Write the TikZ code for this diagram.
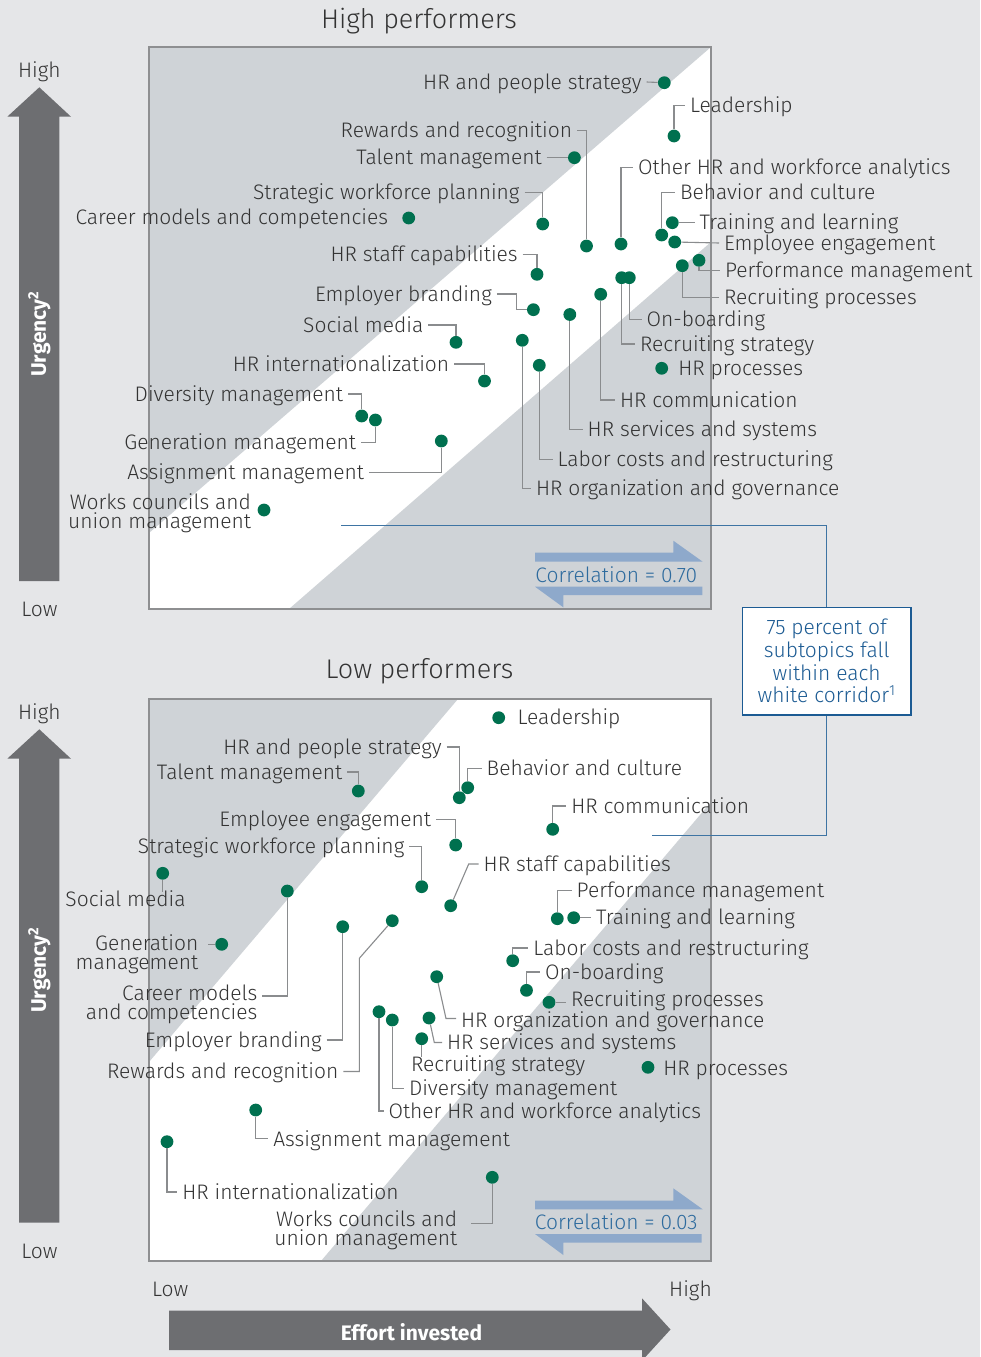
\documentclass[tikz,border=0pt]{standalone}
\usepackage{fontspec}
\setmainfont{Fira Sans Light}
\newfontfamily\heavyfont{Fira Sans}
\usetikzlibrary{calc}

\definecolor{bg}{HTML}{E5E6E8}
\definecolor{corr}{HTML}{CFD3D7}
\definecolor{framegray}{HTML}{8E8F91}
\definecolor{dotgreen}{HTML}{00704F}
\definecolor{leadgray}{HTML}{8A8C8E}
\definecolor{txt}{HTML}{333333}
\definecolor{axisgray}{HTML}{6D6E71}
\definecolor{arrowblue}{HTML}{8EA9CB}
\definecolor{corrtext}{HTML}{2E6B9E}
\definecolor{noteblue}{HTML}{1C5B93}

\newcommand\lblfont{\fontsize{21}{19}\selectfont}

\begin{document}
\begin{tikzpicture}[x=1pt,y=-1pt,
    dot/.style={circle,fill=dotgreen,inner sep=0pt,minimum size=12.8pt},
    lbl/.style={font=\lblfont,text=txt,inner sep=0pt,outer xsep=5pt,outer ysep=0pt,text height=14.5pt,text depth=0pt},
    lbltwo/.style={font=\lblfont,text=txt,inner sep=0pt,outer xsep=5pt,outer ysep=0pt,align=right},
    lead/.style={draw=leadgray,line width=1.1pt},
    frame/.style={draw=framegray,line width=1.4pt},
    title/.style={font=\fontsize{27}{30}\selectfont,text=txt,inner sep=0pt},
    axlbl/.style={font=\lblfont,text=txt,inner sep=0pt,text height=14.5pt,text depth=0pt},
    axname/.style={font=\heavyfont\bfseries\fontsize{21}{24}\selectfont,text=white,inner sep=0pt},
    corrtxt/.style={font=\lblfont,text=corrtext,inner sep=0pt},
    note/.style={draw=noteblue,line width=1.3pt,fill=white,text=noteblue,inner sep=0pt,
      minimum width=168.7pt,minimum height=107.7pt,align=center,font=\fontsize{21}{22.7}\selectfont},
    noteline/.style={draw=noteblue!85!white,line width=1.3pt}]

  \useasboundingbox (0,0) rectangle (980,1357);
  \fill[bg] (0,0) rectangle (980,1357);

  \node[title] (ttlHigh) at (419,21.5) {High performers};
  \node[title] (ttlLow) at (419.5,671.5) {Low performers};

  % axes
  \fill[axisgray] (19,581) -- (19,116.7) -- (7.3,116.7) -- (39.3,87.3) -- (71,116.7) -- (59.3,116.7) -- (59.3,581) -- cycle;
  \fill[axisgray] (19,1222.7) -- (19,758.7) -- (7.3,758.7) -- (39.3,729.3) -- (71,758.7) -- (59.3,758.7) -- (59.3,1222.7) -- cycle;
  \fill[axisgray] (169,1310.7) -- (642,1310.7) -- (642,1298.3) -- (670.5,1329.5) -- (642,1360.7) -- (642,1350) -- (169,1350) -- cycle;
  \node[axlbl] (hHigh) at (39.3,70) {High};
  \node[axlbl] (hLow) at (39.5,609) {Low};
  \node[axlbl] (lHigh) at (39.3,712) {High};
  \node[axlbl] (lLow) at (39.5,1251) {Low};
  \node[axlbl,anchor=west] (xLow) at (152,1289.3) {Low};
  \node[axlbl,anchor=east] (xHigh) at (712,1289.3) {High};
  \node[axname,rotate=90] (hUrg) at (39.3,334) {Urgency\textsuperscript{2}};
  \node[axname,rotate=90] (lUrg) at (39.3,970) {Urgency\textsuperscript{2}};
  \node[axname] (effort) at (411.5,1331.7) {Effort invested};

  % panels
  \fill[white] (149,47) rectangle (711,609);
  \fill[corr] (149,47) -- (711,47) -- (149,533) -- cycle;
  \fill[corr] (711,242) -- (711,609) -- (289,609) -- cycle;
  \draw[frame] (149,47) rectangle (711,609);
  \fill[white] (149,699) rectangle (711,1261);
  \fill[corr] (149,699) -- (458,699) -- (149,1062) -- cycle;
  \fill[corr] (711,802) -- (711,1261) -- (321,1261) -- cycle;
  \draw[frame] (149,699) rectangle (711,1261);

  % correlation arrows
  \fill[arrowblue] (535,552.7) -- (673.3,552.7) -- (673.3,540.7) -- (702.7,561.7) -- (535,561.7) -- cycle;
  \fill[arrowblue] (535,586.7) -- (702.3,586.7) -- (702.3,595) -- (563.3,595) -- (563.3,607.3) -- cycle;
  \node[corrtxt] (hCorr) at (616.3,575) {Correlation = 0.70};
  \fill[arrowblue] (535,1200.7) -- (673.3,1200.7) -- (673.3,1188.3) -- (702.7,1209.3) -- (535,1209.3) -- cycle;
  \fill[arrowblue] (535,1234) -- (701.7,1234) -- (701.7,1242.7) -- (563.3,1242.7) -- (563.3,1255) -- cycle;
  \node[corrtxt] (lCorr) at (616.3,1221.7) {Correlation = 0.03};

  % note
  \node[note] (note) at (826.7,661.2) {75 percent of\\subtopics fall\\within each\\white corridor\textsuperscript{1}};
  \coordinate (hNoteEnd) at (341.4,525.7);
  \coordinate (lNoteEnd) at (651.7,835.7);
  \draw[noteline] (note.north) |- (hNoteEnd);
  \draw[noteline] (note.south) |- (lNoteEnd);

  % high performers
  \node[dot] (hHps) at (664.3,82.7) {};
  \node[dot] (hLead) at (674,136) {};
  \node[dot] (hRew) at (586.5,246) {};
  \node[dot] (hTal) at (574.4,157.7) {};
  \node[dot] (hSwp) at (542.7,224) {};
  \node[dot] (hCar) at (408.7,218) {};
  \node[dot] (hOth) at (621,244) {};
  \node[dot] (hBeh) at (661.7,235) {};
  \node[dot] (hTra) at (672.3,222.7) {};
  \node[dot] (hEmp) at (674.7,242) {};
  \node[dot] (hPer) at (699,260.3) {};
  \node[dot] (hRpr) at (682.3,265.7) {};
  \node[dot] (hSta) at (537,274.3) {};
  \node[dot] (hBra) at (533.4,309.7) {};
  \node[dot] (hOnb) at (629.3,277.7) {};
  \node[dot] (hRst) at (621.7,277.7) {};
  \node[dot] (hPro) at (661.7,368.3) {};
  \node[dot] (hSoc) at (456,342.3) {};
  \node[dot] (hCom) at (600.7,294.3) {};
  \node[dot] (hSer) at (569.8,314.5) {};
  \node[dot] (hLab) at (539.3,365.3) {};
  \node[dot] (hOrg) at (522.3,340.3) {};
  \node[dot] (hInt) at (484.5,381) {};
  \node[dot] (hDiv) at (361.7,416) {};
  \node[dot] (hGen) at (375.4,420) {};
  \node[dot] (hAss) at (441.3,441) {};
  \node[dot] (hWor) at (264,510) {};

  \node[lbl,anchor=east] (hHpsT) at (646.6,82) {HR and people strategy};
  \node[lbl,anchor=west] (hLeadT) at (685,105.7) {Leadership};
  \node[lbl,anchor=east] (hRewT) at (577,130.7) {Rewards and recognition};
  \node[lbl,anchor=east] (hTalT) at (546.7,157.7) {Talent management};
  \node[lbl,anchor=east] (hSwpT) at (524.5,192.5) {Strategic workforce planning};
  \node[lbl,anchor=east] (hCarT) at (393,217) {Career models and competencies};
  \node[lbl,anchor=east] (hStaT) at (522.7,254.5) {HR staff capabilities};
  \node[lbl,anchor=east] (hBraT) at (496.8,294) {Employer branding};
  \node[lbl,anchor=east] (hSocT) at (428.3,325) {Social media};
  \node[lbl,anchor=east] (hIntT) at (454.2,364) {HR internationalization};
  \node[lbl,anchor=east] (hDivT) at (348,394) {Diversity management};
  \node[lbl,anchor=east] (hGenT) at (361,442.5) {Generation management};
  \node[lbl,anchor=east] (hAssT) at (369,472.5) {Assignment management};
  \node[lbltwo,anchor=east] (hWorT) at (256,513.4) {Works councils and\\union management};
  \node[lbl,anchor=west] (hOthT) at (633,167.7) {Other HR and workforce analytics};
  \node[lbl,anchor=west] (hBehT) at (675,192.3) {Behavior and culture};
  \node[lbl,anchor=west] (hTraT) at (694.7,222.7) {Training and learning};
  \node[lbl,anchor=west] (hEmpT) at (719,243) {Employee engagement};
  \node[lbl,anchor=west] (hPerT) at (720,270.7) {Performance management};
  \node[lbl,anchor=west] (hRprT) at (719,297.3) {Recruiting processes};
  \node[lbl,anchor=west] (hOnbT) at (641.7,319.3) {On-boarding};
  \node[lbl,anchor=west] (hRstT) at (635,344) {Recruiting strategy};
  \node[lbl,anchor=west] (hProT) at (673.3,368.5) {HR processes};
  \node[lbl,anchor=west] (hComT) at (615,400) {HR communication};
  \node[lbl,anchor=west] (hSerT) at (582.7,429.5) {HR services and systems};
  \node[lbl,anchor=west] (hLabT) at (552.5,459.5) {Labor costs and restructuring};
  \node[lbl,anchor=west] (hOrgT) at (531,488.5) {HR organization and governance};

  \draw[lead] (hHpsT.east) -- (hHps);
  \draw[lead] (hLead) |- (hLeadT.west);
  \draw[lead] (hRewT.east) -| (hRew);
  \draw[lead] (hTalT.east) -- (hTal);
  \draw[lead] (hSwpT.east) -| (hSwp);
  \draw[lead] (hStaT.east) -| (hSta);
  \draw[lead] (hBraT.east) -| ([xshift=-16.6pt]hBra.center) -- (hBra);
  \draw[lead] (hSocT.east) -| (hSoc);
  \draw[lead] (hIntT.east) -| (hInt);
  \draw[lead] (hDivT.east) -| (hDiv);
  \draw[lead] (hGenT.east) -| (hGen);
  \draw[lead] (hAssT.east) -| (hAss);
  \draw[lead] (hOth) |- (hOthT.west);
  \draw[lead] (hBeh) |- (hBehT.west);
  \draw[lead] (hTra) -- (hTraT.west);
  \draw[lead] (hEmp) -- (hEmpT.west);
  \draw[lead] (hPer) |- (hPerT.west);
  \draw[lead] (hRpr) |- (hRprT.west);
  \draw[lead] (hOnb) |- (hOnbT.west);
  \draw[lead] (hRst) |- (hRstT.west);
  \draw[lead] (hCom) |- (hComT.west);
  \draw[lead] (hSer) |- (hSerT.west);
  \draw[lead] (hLab) |- (hLabT.west);
  \draw[lead] (hOrg) |- (hOrgT.west);

  % low performers
  \node[dot] (lLead) at (498.7,717.7) {};
  \node[dot] (lHps) at (459.3,797.7) {};
  \node[dot] (lBeh) at (467.7,787.7) {};
  \node[dot] (lTal) at (358.3,791) {};
  \node[dot] (lEmp) at (455.7,845) {};
  \node[dot] (lSwp) at (421.7,886.7) {};
  \node[dot] (lCom) at (552.7,829.3) {};
  \node[dot] (lSta) at (450.7,905.7) {};
  \node[dot] (lSoc) at (162.7,873.3) {};
  \node[dot] (lPer) at (557.3,918.7) {};
  \node[dot] (lTra) at (573.7,917.7) {};
  \node[dot] (lGen) at (221.7,944.3) {};
  \node[dot] (lCar) at (287.3,891) {};
  \node[dot] (lBra) at (342.7,926.7) {};
  \node[dot] (lRew) at (392.3,920.7) {};
  \node[dot] (lLab) at (512.7,960.7) {};
  \node[dot] (lOnb) at (526.5,990.3) {};
  \node[dot] (lRpr) at (549,1002.3) {};
  \node[dot] (lOrg) at (436.7,976.7) {};
  \node[dot] (lSer) at (429,1018) {};
  \node[dot] (lRst) at (421.7,1038.7) {};
  \node[dot] (lDiv) at (392.3,1020) {};
  \node[dot] (lOth) at (379,1011.7) {};
  \node[dot] (lPro) at (648,1067.3) {};
  \node[dot] (lAss) at (255.7,1110) {};
  \node[dot] (lInt) at (167,1141.7) {};
  \node[dot] (lWor) at (492.3,1177.3) {};

  \node[lbl,anchor=west] (lLeadT) at (512.7,717.7) {Leadership};
  \node[lbl,anchor=east] (lHpsT) at (446.7,747) {HR and people strategy};
  \node[lbl,anchor=west] (lBehT) at (481.7,768.5) {Behavior and culture};
  \node[lbl,anchor=east] (lTalT) at (347.3,772) {Talent management};
  \node[lbl,anchor=east] (lEmpT) at (436,819.5) {Employee engagement};
  \node[lbl,anchor=east] (lSwpT) at (409.3,846.5) {Strategic workforce planning};
  \node[lbl,anchor=west] (lComT) at (566.3,806) {HR communication};
  \node[lbl,anchor=west] (lStaT) at (478.7,864) {HR staff capabilities};
  \node[lbl] (lSocT) at (125.5,899.5) {Social media};
  \node[lbl,anchor=west] (lPerT) at (571.7,890.5) {Performance management};
  \node[lbl,anchor=west] (lTraT) at (591,917.7) {Training and learning};
  \node[lbltwo,anchor=east,outer xsep=10pt] (lGenT) at (208.3,953.8) {Generation\\management};
  \node[lbltwo,anchor=east,outer xsep=4.4pt] (lCarT) at (261.7,1004.7) {Career models\\and competencies};
  \node[lbl,anchor=east] (lBraT) at (326.7,1040) {Employer branding};
  \node[lbl,anchor=east] (lRewT) at (343.3,1071.5) {Rewards and recognition};
  \node[lbl,anchor=west] (lLabT) at (528.3,948) {Labor costs and restructuring};
  \node[lbl,anchor=west] (lOnbT) at (540,972) {On-boarding};
  \node[lbl,anchor=west] (lRprT) at (566,999.5) {Recruiting processes};
  \node[lbl,anchor=west] (lOrgT) at (456,1020.5) {HR organization and governance};
  \node[lbl,anchor=west] (lSerT) at (442,1042.5) {HR services and systems};
  \node[lbl,anchor=west] (lRstT) at (406,1064.5) {Recruiting strategy};
  \node[lbl,anchor=west] (lDivT) at (404,1088.5) {Diversity management};
  \node[lbl,anchor=west] (lOthT) at (383.5,1111) {Other HR and workforce analytics};
  \node[lbl,anchor=west] (lProT) at (658.3,1068) {HR processes};
  \node[lbl,anchor=west] (lAssT) at (268.3,1138.8) {Assignment management};
  \node[lbl,anchor=west] (lIntT) at (177.3,1192) {HR internationalization};
  \node[lbltwo,anchor=east,outer xsep=13.7pt] (lWorT) at (471,1229.9) {Works councils and\\union management};

  \draw[lead] (lHpsT.east) -| (lHps);
  \draw[lead] (lBeh) |- (lBehT.west);
  \draw[lead] (lTalT.east) -| (lTal);
  \draw[lead] (lEmpT.east) -| (lEmp);
  \draw[lead] (lSwpT.east) -| (lSwp);
  \draw[lead] (lCom) |- (lComT.west);
  \draw[lead] (lSta) -- ([xshift=-10pt]lStaT.west) -- (lStaT.west);
  \draw[lead] (lSoc) -- (lSoc |- lSocT.north);
  \draw[lead] (lPer) |- (lPerT.west);
  \draw[lead] (lTra) -- (lTraT.west);
  \draw[lead] (lGen) -- (lGen -| lGenT.east);
  \draw[lead] (lCar) |- ([yshift=8.7pt]lCarT.east);
  \draw[lead] (lBraT.east) -| (lBra);
  \draw[lead] (lRewT.east) -| ([xshift=-33pt,yshift=-37.6pt]lRew.center) -- (lRew);
  \draw[lead] (lLab) |- (lLabT.west);
  \draw[lead] (lOnb) |- (lOnbT.west);
  \draw[lead] (lRpr) -- (lRpr -| lRprT.west);
  \draw[lead] (lOrg) -- ([xshift=-10pt,yshift=2pt]lOrgT.west) -- ([yshift=2pt]lOrgT.west);
  \draw[lead] (lSer) -- ([xshift=-7.7pt]lSerT.west) -- (lSerT.west);
  \draw[lead] (lRst) -- (lRst |- lRstT.north);
  \draw[lead] (lDiv) |- (lDivT.west);
  \draw[lead] (lOth) |- (lOthT.west);
  \draw[lead] (lAss) |- (lAssT.west);
  \draw[lead] (lInt) |- (lIntT.west);
  \draw[lead] (lWor) |- ([yshift=6.6pt]lWorT.east);
\end{tikzpicture}
\end{document}
